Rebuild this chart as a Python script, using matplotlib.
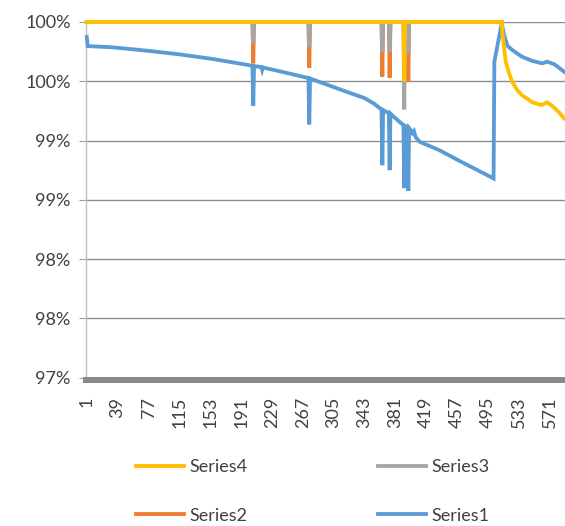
import numpy as np
import matplotlib
matplotlib.use("Agg")
import matplotlib.pyplot as plt
from matplotlib.lines import Line2D
from matplotlib.ticker import FuncFormatter

plt.rcParams['font.family'] = ['Lato', 'DejaVu Sans']

# category index (1..590) and value at each vertex of the lines
n_cat = 590

s1_x = [1, 2, 33, 75, 115, 156, 205, 206, 207, 216, 217, 218, 240,
        274, 275, 276, 321, 343, 355, 364, 365, 366, 373, 374, 375,
        385, 391, 392, 393, 396, 397, 398, 400, 402, 404, 406, 411,
        435, 460, 502, 503, 512, 515, 519, 525, 537, 550, 562, 568,
        577, 589]
s1_y = [0.99873, 0.99797, 0.99786, 0.99758, 0.99727, 0.99688, 0.99631,
        0.99291, 0.99628, 0.99620, 0.99595, 0.99616, 0.99582, 0.99527,
        0.99136, 0.99523, 0.99411, 0.99358, 0.99310, 0.99261, 0.98792,
        0.99257, 0.99231, 0.98750, 0.99227, 0.99164, 0.99130, 0.98598,
        0.99122, 0.99113, 0.98575, 0.99105, 0.99088, 0.99062, 0.99079,
        0.99029, 0.98989, 0.98919, 0.98828, 0.98680, 0.99665, 0.99989,
        0.99890, 0.99800, 0.99764, 0.99707, 0.99671, 0.99651, 0.99665,
        0.99643, 0.99580]

s2_x = [1, 205, 206, 207, 274, 275, 276, 364, 365, 366, 373, 374, 375,
        396, 397, 398, 512]
s2_y = [1.0, 1.0, 0.99651, 1.0, 1.0, 0.99614, 1.0, 1.0, 0.99538, 1.0,
        1.0, 0.99530, 1.0, 1.0, 0.99496, 1.0, 1.0]

s3_x = [1, 205, 206, 207, 274, 275, 276, 364, 365, 366, 373, 374, 375,
        391, 392, 393, 396, 397, 398, 512]
s3_y = [1.0, 1.0, 0.99820, 1.0, 1.0, 0.99791, 1.0, 1.0, 0.99749, 1.0,
        1.0, 0.99749, 1.0, 1.0, 0.99263, 1.0, 1.0, 0.99730, 1.0, 1.0]

s4_x = [1, 391, 392, 393, 512, 513, 515, 517, 521, 525, 531, 537, 550,
        561, 568, 574, 582, 589]
s4_y = [1.0, 1.0, 0.995, 1.0, 1.0, 0.9990, 0.99780, 0.99665, 0.99569,
        0.99496, 0.99426, 0.99383, 0.99322, 0.99299, 0.99322, 0.99293,
        0.99242, 0.99187]

series = [
    ('Series1', s1_x, s1_y, '#5B9BD5'),
    ('Series2', s2_x, s2_y, '#ED7D31'),
    ('Series3', s3_x, s3_y, '#A5A5A5'),
    ('Series4', s4_x, s4_y, '#FFC000'),
]

txt = '#404040'
lw = 2.75

fig = plt.figure(figsize=(5.65, 5.26), dpi=100)
ax = fig.add_axes([86 / 565, 1 - 377.5 / 526, 479 / 565, 355.5 / 526])

handles = {}
for z, (name, xs, ys, col) in enumerate(series):
    ax.plot(xs, ys, color=col, lw=lw, solid_joinstyle='miter',
            zorder=3 + z, clip_on=False)
    handles[name] = Line2D([], [], color=col, lw=lw)

ax.set_xlim(0, n_cat)
ax.set_ylim(0.97, 1.0)


def pct(v, pos):
    # excel style rounding, half up
    return '%d%%' % int(np.floor(v * 100 + 0.5 + 1e-9))


ax.set_yticks(np.linspace(0.97, 1.0, 7))
ax.yaxis.set_major_formatter(FuncFormatter(pct))
ax.set_xticks(np.arange(1, n_cat, 38))
ax.set_xticklabels([str(c) for c in range(1, n_cat, 38)])

ax.yaxis.grid(True, color='#8C8C8C', lw=1)
ax.set_axisbelow(True)

for s in ['top', 'right']:
    ax.spines[s].set_visible(False)
ax.spines['left'].set_color('#BFBFBF')
ax.spines['left'].set_linewidth(1)
ax.spines['bottom'].set_color('#898989')
ax.spines['bottom'].set_linewidth(4.3)
ax.spines['bottom'].set_position(('outward', 2))

ax.tick_params(axis='y', length=5, color='#A0A0A0', labelsize=13,
               labelcolor=txt, pad=6)
ax.tick_params(axis='x', length=0, labelsize=13, labelcolor=txt, pad=12,
               labelrotation=90)

order = ['Series4', 'Series2', 'Series3', 'Series1']
fig.legend([handles[k] for k in order], order, ncol=2, loc='center',
           bbox_to_anchor=(0.554, 0.0656), frameon=False, fontsize=13,
           labelcolor=txt, handlelength=2.67, handletextpad=0.3,
           columnspacing=7.2, labelspacing=1.8)

fig.savefig('out.png', dpi=100)
